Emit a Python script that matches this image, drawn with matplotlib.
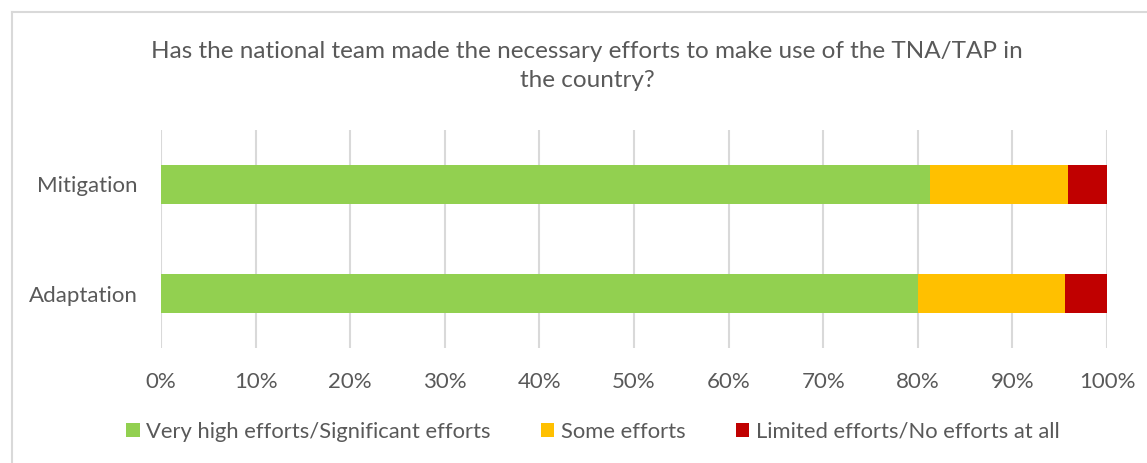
import matplotlib.pyplot as plt
from matplotlib.lines import Line2D
from matplotlib.ticker import PercentFormatter

plt.rcParams['font.family'] = ['Lato', 'DejaVu Sans']

# share of respondents per answer (%), bottom row first
categories = ['Adaptation', 'Mitigation']
very_high = [80.0, 81.25]
some = [15.56, 14.58]
limited = [4.44, 4.17]

series_names = ['Very high efforts/Significant efforts', 'Some efforts',
                'Limited efforts/No efforts at all']
colors = ['#92d050', '#ffc000', '#c00000']
text_color = '#595959'
grid_color = '#d9d9d9'

W, H = 1147, 463
fig = plt.figure(figsize=(W / 100, H / 100), dpi=100)

# outer chart frame (top and left edges)
fig.add_artist(Line2D([12 / W, 1.0], [1 - 12 / H, 1 - 12 / H],
                      color=grid_color, lw=1.5, transform=fig.transFigure))
fig.add_artist(Line2D([12 / W, 12 / W], [0.0, 1 - 12 / H],
                      color=grid_color, lw=1.5, transform=fig.transFigure))

ax = fig.add_axes([161 / W, (H - 348) / H, 946 / W, 218 / H])

left = [0.0] * len(categories)
handles = []
for values, name, color in zip([very_high, some, limited], series_names, colors):
    bars = ax.barh(categories, values, left=left, height=0.35, color=color,
                   label=name, zorder=3)
    handles.append(bars)
    left = [l + v for l, v in zip(left, values)]

ax.set_xlim(0, 100)
ax.set_ylim(-0.5, 1.5)
ax.set_xticks(range(0, 101, 10))
ax.xaxis.set_major_formatter(PercentFormatter(decimals=0))
ax.grid(axis='x', color=grid_color, lw=1.5, zorder=0)
for side in ax.spines.values():
    side.set_visible(False)
ax.tick_params(axis='x', length=0, pad=17, labelsize=16, labelcolor=text_color)
ax.tick_params(axis='y', length=0, pad=17, labelsize=16, labelcolor=text_color)

fig.text(587 / W, 1 - 66 / H,
         'Has the national team made the necessary efforts to make use of the TNA/TAP in\nthe country?',
         ha='center', va='center', fontsize=17.5, color=text_color, linespacing=1.45)

fig.legend(handles=handles, loc='center', bbox_to_anchor=(593 / W, 1 - 432 / H),
           ncol=3, frameon=False, fontsize=15.8, labelcolor=text_color,
           handlelength=0.6, handleheight=0.6, handletextpad=0.3,
           columnspacing=2.3)

fig.savefig('out.png', dpi=100)
